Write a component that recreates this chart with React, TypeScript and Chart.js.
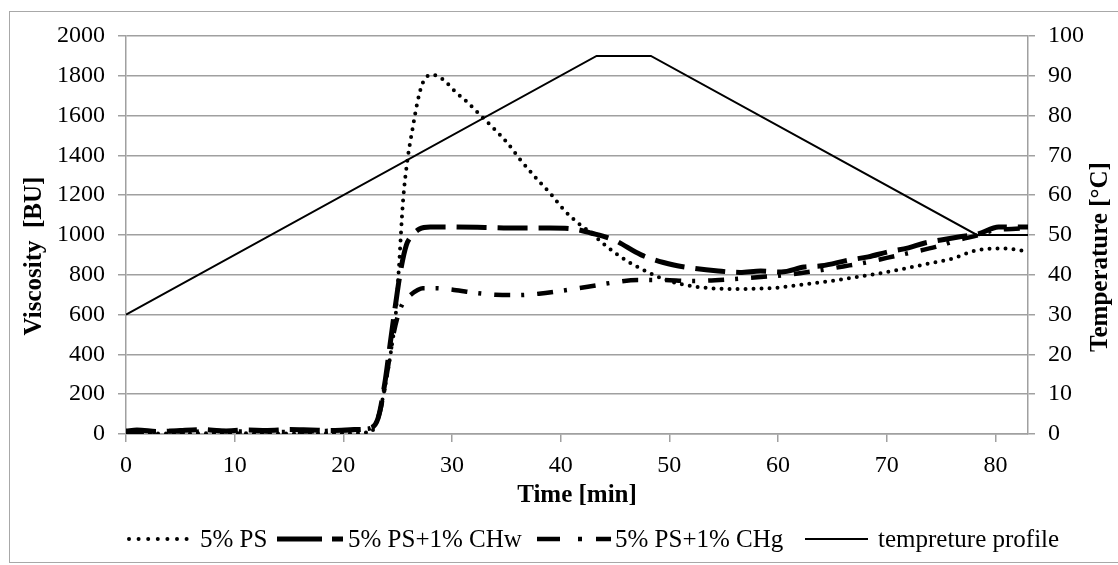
import React, { useEffect, useRef } from "react";
import { Chart, registerables } from "chart.js";

Chart.register(...registerables);

// ---- data ----
const psTime = [0, 4, 8, 12, 16, 20, 22.5, 23.2, 23.9, 24.4, 24.8, 25.1, 25.5, 25.9, 26.4, 26.8, 27.3, 28.2, 29.2, 30.3, 31.4, 32.4, 33.8, 35.1, 36.3, 37.9, 39.1, 40.3, 41.6, 42.8, 44.3, 46.2, 48, 49.2, 51, 53.5, 56.6, 59.6, 62.5, 65.5, 69.5, 73.2, 76.2, 78.4, 80.8, 82.7, 83];
const psVisc = [3, 2, 4, 3, 2, 4, 10, 85, 256, 422, 588, 824, 1176, 1377, 1543, 1663, 1764, 1805, 1780, 1720, 1668, 1613, 1538, 1462, 1377, 1276, 1205, 1126, 1060, 1010, 940, 866, 814, 784, 754, 734, 729, 734, 752, 774, 809, 849, 884, 925, 932, 920, 918];

const chwTime = [0, 1, 3, 5, 7, 9, 11, 13, 15, 17, 19, 21, 22.5, 23.2, 23.8, 24.3, 24.8, 25.3, 25.8, 26.2, 27, 28, 30, 33, 36, 39, 41.2, 42.8, 44.9, 47.4, 50.4, 52, 54.5, 56.5, 58.4, 60.3, 62.4, 64, 66.5, 68.3, 70.1, 72, 73.5, 75, 76.6, 78.4, 80.3, 82.4, 83];
const chwVisc = [15, 20, 12, 18, 22, 15, 20, 18, 22, 20, 18, 22, 30, 80, 250, 450, 650, 830, 950, 990, 1030, 1040, 1040, 1038, 1035, 1035, 1030, 1010, 975, 900, 849, 834, 819, 812, 819, 814, 839, 845, 874, 890, 915, 935, 960, 975, 990, 1005, 1040, 1040, 1040];

const chgTime = [0, 2, 4, 6, 8, 10, 12, 14, 16, 18, 20, 22, 22.8, 23.4, 24, 24.5, 25, 25.5, 26.2, 26.8, 27.3, 28.5, 30.2, 32.3, 34, 36, 38, 40.6, 42.5, 44.6, 47.1, 49.2, 52, 56, 58.4, 60, 62, 64, 66, 68.3, 70, 72.5, 74.5, 76.6, 78.5, 79.9, 81.5, 83];
const chgVisc = [10, 12, 15, 10, 18, 12, 15, 10, 12, 15, 18, 25, 40, 120, 300, 470, 590, 660, 700, 722, 733, 733, 724, 708, 700, 698, 705, 724, 740, 759, 774, 774, 769, 779, 789, 795, 808, 824, 842, 864, 885, 915, 940, 975, 1000, 1025, 1030, 1035];

const tempTime = [0, 43.3, 48.3, 78.3, 83];
const tempValue = [30, 95, 95, 50, 50];

const seriesLabels = ["5% PS", "5% PS+1% CHw", "5% PS+1% CHg", "tempreture profile"];
const xTitle = "Time [min]";
const yTitle = "Viscosity  [BU]";
const y1Title = "Temperature [°C]";

const xRange = [0, 83];
const yRange = [0, 2000];
const y1Range = [0, 100];
const xStep = 10;
const yStep = 200;
const y1Step = 10;

function toPoints(t: number[], v: number[]) {
  return t.map((x, i) => ({ x, y: v[i] }));
}

const FONT = "'Liberation Serif', 'Times New Roman', serif";
const GRID = "#a0a0a0";

const decorPlugin = {
  id: "decor",
  afterDraw(chart: any) {
    const ctx: CanvasRenderingContext2D = chart.ctx;
    const ca = chart.chartArea;
    ctx.save();
    // outer frame
    ctx.strokeStyle = "#a8a8a8";
    ctx.lineWidth = 1;
    ctx.strokeRect(9.5, 11.5, 1112, 551);

    // axis titles
    ctx.fillStyle = "#000";
    ctx.font = `bold 25px ${FONT}`;
    ctx.textAlign = "center";
    ctx.textBaseline = "middle";
    ctx.fillText(xTitle, (ca.left + ca.right) / 2, 496);
    ctx.save();
    ctx.translate(35, 256);
    ctx.rotate(-Math.PI / 2);
    ctx.fillText(yTitle, 0, 0);
    ctx.restore();
    ctx.save();
    ctx.translate(1101, 257);
    ctx.rotate(-Math.PI / 2);
    ctx.fillText(y1Title, 0, 0);
    ctx.restore();

    // legend
    const ly = 539;
    const items = [
      { x0: 129, x1: 187, tx: 200 },
      { x0: 277, x1: 343, tx: 348 },
      { x0: 537, x1: 611, tx: 615 },
      { x0: 805, x1: 868, tx: 878 },
    ];
    const dashes = [[0, 9.6], [45, 10, 11, 100], [23, 18, 4, 14, 15, 100], []];
    const caps: CanvasLineCap[] = ["round", "butt", "butt", "butt"];
    chart.data.datasets.forEach((ds: any, i: number) => {
      const it = items[i];
      ctx.beginPath();
      ctx.strokeStyle = "#000";
      ctx.lineWidth = ds.borderWidth;
      ctx.lineCap = caps[i];
      ctx.setLineDash(dashes[i]);
      ctx.moveTo(it.x0, ly);
      ctx.lineTo(it.x1, ly);
      ctx.stroke();
      ctx.setLineDash([]);
      ctx.font = `25px ${FONT}`;
      ctx.textAlign = "left";
      ctx.textBaseline = "alphabetic";
      ctx.fillStyle = "#000";
      ctx.fillText(ds.label, it.tx, ly + 8);
    });
    ctx.restore();
  },
};

export default function App() {
  const ref = useRef<HTMLCanvasElement | null>(null);

  useEffect(() => {
    document.body.style.margin = "0";
    const canvas = ref.current!;
    const tickFont = { family: FONT, size: 24 };
    const plain = (v: any) => String(v);
    const common = {
      pointRadius: 0,
      borderColor: "#000",
      backgroundColor: "#000",
      fill: false,
    };
    const chart = new Chart(canvas, {
      type: "line",
      data: {
        datasets: [
          {
            ...common,
            label: seriesLabels[0],
            data: toPoints(psTime, psVisc),
            borderWidth: 4,
            borderDash: [0, 8],
            borderCapStyle: "round",
            cubicInterpolationMode: "monotone",
            yAxisID: "y",
          },
          {
            ...common,
            label: seriesLabels[1],
            data: toPoints(chwTime, chwVisc),
            borderWidth: 5,
            borderDash: [30, 11],
            borderCapStyle: "butt",
            cubicInterpolationMode: "monotone",
            yAxisID: "y",
          },
          {
            ...common,
            label: seriesLabels[2],
            data: toPoints(chgTime, chgVisc),
            borderWidth: 4.5,
            borderDash: [16, 11, 3, 13],
            borderCapStyle: "butt",
            cubicInterpolationMode: "monotone",
            yAxisID: "y",
          },
          {
            ...common,
            label: seriesLabels[3],
            data: toPoints(tempTime, tempValue),
            borderWidth: 2,
            tension: 0,
            yAxisID: "y1",
          },
        ],
      } as any,
      options: {
        responsive: false,
        animation: false,
        devicePixelRatio: 1,
        layout: { padding: { top: 36, left: 0, right: 0, bottom: 0 } },
        plugins: {
          legend: { display: false },
          tooltip: { enabled: false },
          title: { display: false },
        },
        scales: {
          x: {
            type: "linear",
            position: "bottom",
            min: xRange[0],
            max: xRange[1],
            ticks: {
              stepSize: xStep,
              includeBounds: false,
              font: tickFont,
              color: "#000",
              padding: 9,
              maxRotation: 0,
              callback: plain,
            },
            grid: { drawOnChartArea: false, drawTicks: true, tickLength: 8, color: GRID, lineWidth: 1.5 },
            border: { color: GRID, width: 1.5 },
            afterFit: (s: any) => {
              s.height = 131;
            },
          },
          y: {
            type: "linear",
            position: "left",
            min: yRange[0],
            max: yRange[1],
            ticks: { stepSize: yStep, font: tickFont, color: "#000", padding: 13, callback: plain },
            grid: { color: GRID, lineWidth: 1.5, tickLength: 8 },
            border: { color: GRID, width: 1.5 },
            afterFit: (s: any) => {
              s.width = 126;
            },
          },
          y1: {
            type: "linear",
            position: "right",
            min: y1Range[0],
            max: y1Range[1],
            ticks: { stepSize: y1Step, font: tickFont, color: "#000", padding: 13, callback: plain },
            grid: { drawOnChartArea: false, color: GRID, lineWidth: 1.5, tickLength: 7 },
            border: { color: GRID, width: 1.5 },
            afterFit: (s: any) => {
              s.width = 90;
            },
          },
        },
      } as any,
      plugins: [decorPlugin],
    });
    return () => chart.destroy();
  }, []);

  return (
    <canvas
      ref={ref}
      width={1118}
      height={565}
      style={{ display: "block", width: 1118, height: 565, background: "#fff" }}
    />
  );
}
